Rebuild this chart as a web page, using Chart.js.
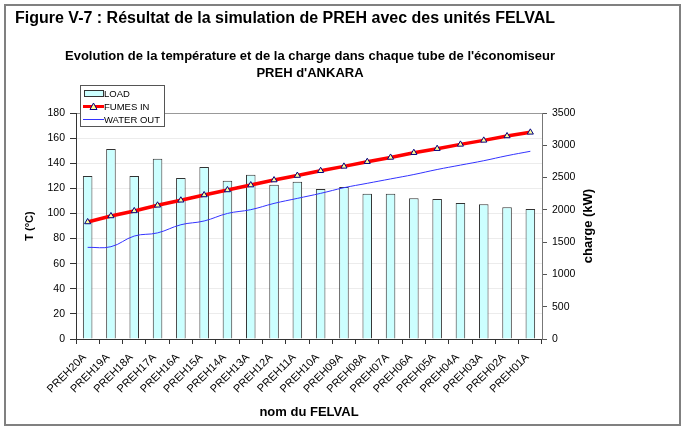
<!DOCTYPE html>
<html>
<head>
<meta charset="utf-8">
<script src="https://cdn.jsdelivr.net/npm/chart.js@4"></script>
<style>
  body { margin: 0; background: #fff; font-family: "Liberation Sans", Arial, sans-serif; }
  #wrap { position: relative; width: 684px; height: 430px; overflow: hidden; }
  #frame { position: absolute; left: 4px; top: 4px; width: 673px; height: 418px; border: 2px solid #808080; }
  #fig { position: absolute; left: 15px; top: 9px; font-size: 16px; font-weight: bold; white-space: nowrap; }
  #title { position: absolute; left: 0; width: 620px; top: 47px; text-align: center; font-size: 13px; font-weight: bold; line-height: 17px; }
  #chart { position: absolute; left: 0; top: 0; }
  #ytitle2 { position: absolute; left: 538px; top: 218px; width: 100px; text-align: center; font-size: 13px; font-weight: bold; line-height: 16px; transform: rotate(-90deg); white-space: nowrap; }
  #legend { position: absolute; left: 80px; top: 85px; width: 83px; height: 40px; border: 1px solid #555; background: #fff; font-size: 9.5px; }
  .row { position: absolute; left: 2px; height: 13px; }
  .row span { position: absolute; left: 21px; top: 0; line-height: 13px; white-space: nowrap; }
</style>
</head>
<body>
<div id="wrap">
  <canvas id="chart" width="684" height="430"></canvas>
  <div id="frame"></div>
  <div id="fig">Figure V-7 : Résultat de la simulation de PREH avec des unités FELVAL</div>
  <div id="title">Evolution de la température et de la charge dans chaque tube de l'économiseur<br>PREH d'ANKARA</div>
  <div id="ytitle2">charge (kW)</div>
  <div id="legend">
    <div class="row" style="top:1px">
      <div style="position:absolute;left:1px;top:3px;width:18px;height:5px;background:#ccffff;border:1px solid #333"></div>
      <span>LOAD</span>
    </div>
    <div class="row" style="top:14px">
      <div style="position:absolute;left:0;top:5px;width:21px;height:3px;background:#ff0000"></div>
      <svg style="position:absolute;left:6px;top:2px" width="9" height="9"><polygon points="4.5,1 8,7.5 1,7.5" fill="#ffff99" stroke="#000080" stroke-width="1"/></svg>
      <span>FUMES IN</span>
    </div>
    <div class="row" style="top:27px">
      <div style="position:absolute;left:0;top:6px;width:21px;height:1px;background:#3333ff"></div>
      <span>WATER OUT</span>
    </div>
  </div>
</div>
<script>
// ─────────────────────────────
// DATA
// ─────────────────────────────
const felvals = ["PREH20A", "PREH19A", "PREH18A", "PREH17A", "PREH16A", "PREH15A", "PREH14A",
    "PREH13A", "PREH12A", "PREH11A", "PREH10A", "PREH09A", "PREH08A", "PREH07A", "PREH06A",
    "PREH05A", "PREH04A", "PREH03A", "PREH02A", "PREH01A"];

const load = [2524, 2942, 2524, 2790, 2495, 2664, 2450, 2543, 2388, 2437,
    2323, 2354, 2250, 2250, 2179, 2168, 2106, 2086, 2040, 2012];

const fumesIn = [93.2, 98, 102, 106.5, 110.5, 114.7, 118.7, 122.6, 126.6, 130.2,
    134, 137.5, 141.2, 144.6, 148.4, 151.6, 155, 158.2, 161.7, 164.6];

const waterOut = [73, 73.5, 82, 84.5, 91, 94, 100, 103, 108, 112,
    116, 120.5, 124, 127.5, 131, 135, 138.5, 142, 146, 149.5];

const tempTicks = { min: 0, max: 180, step: 20 };
const loadTicks = { min: 0, max: 3500, step: 500 };

// ─────────────────────────────
// CHART
// ─────────────────────────────
Chart.defaults.font.family = '"Liberation Sans", Arial, sans-serif';
Chart.defaults.color = "#000";

new Chart(document.getElementById("chart"), {
    data: {
        labels: felvals,
        datasets: [
            {
                type: "line",
                label: "FUMES IN",
                data: fumesIn,
                yAxisID: "y",
                borderColor: "#ff0000",
                borderWidth: 3.5,
                pointStyle: "triangle",
                pointRadius: 3.5,
                pointBackgroundColor: "#ffff99",
                pointBorderColor: "#000080",
                pointBorderWidth: 1,
                order: 0
            },
            {
                type: "line",
                label: "WATER OUT",
                data: waterOut,
                yAxisID: "y",
                borderColor: "#3333ff",
                borderWidth: 1,
                pointRadius: 0,
                tension: 0.4,
                order: 1
            },
            {
                type: "bar",
                label: "LOAD",
                data: load,
                yAxisID: "y2",
                backgroundColor: "#ccffff",
                borderColor: "#333",
                borderWidth: 1,
                categoryPercentage: 1,
                barPercentage: 0.41,
                order: 2
            }
        ]
    },
    options: {
        responsive: false,
        animation: false,
        layout: { padding: { top: 113, left: 0, right: 0, bottom: 0 } },
        plugins: { legend: { display: false }, tooltip: { enabled: false } },
        scales: {
            x: {
                offset: true,
                grid: { offset: true, drawOnChartArea: false, tickLength: 5, color: "#333" },
                border: { color: "#333" },
                ticks: { minRotation: 45, maxRotation: 45, font: { size: 11 }, padding: 7, labelOffset: -3, autoSkip: false },
                title: { display: true, text: "nom du FELVAL", font: { size: 13, weight: "bold" }, padding: { top: 0, bottom: 10 } },
                afterFit(s) { s.height = 91; }
            },
            y: {
                position: "left",
                min: tempTicks.min,
                max: tempTicks.max,
                ticks: { stepSize: tempTicks.step, font: { size: 10.5 }, padding: 5 },
                grid: {
                    color: (c) => c.tick && c.tick.value === tempTicks.max ? "#999" : "#ececec",
                    tickColor: "#333",
                    tickLength: 6
                },
                border: { color: "#333" },
                title: { display: true, text: "T (°C)", font: { size: 11, weight: "bold" }, padding: { top: 23.4, bottom: 0 } },
                afterFit(s) { s.width = 76; }
            },
            y2: {
                position: "right",
                min: loadTicks.min,
                max: loadTicks.max,
                ticks: { stepSize: loadTicks.step, font: { size: 10.5 }, padding: 5, callback: (v) => String(v) },
                grid: { drawOnChartArea: false, tickColor: "#555", tickLength: 5 },
                border: { color: "#777" },
                afterFit(s) { s.width = 142; }
            }
        }
    }
});
</script>
</body>
</html>
